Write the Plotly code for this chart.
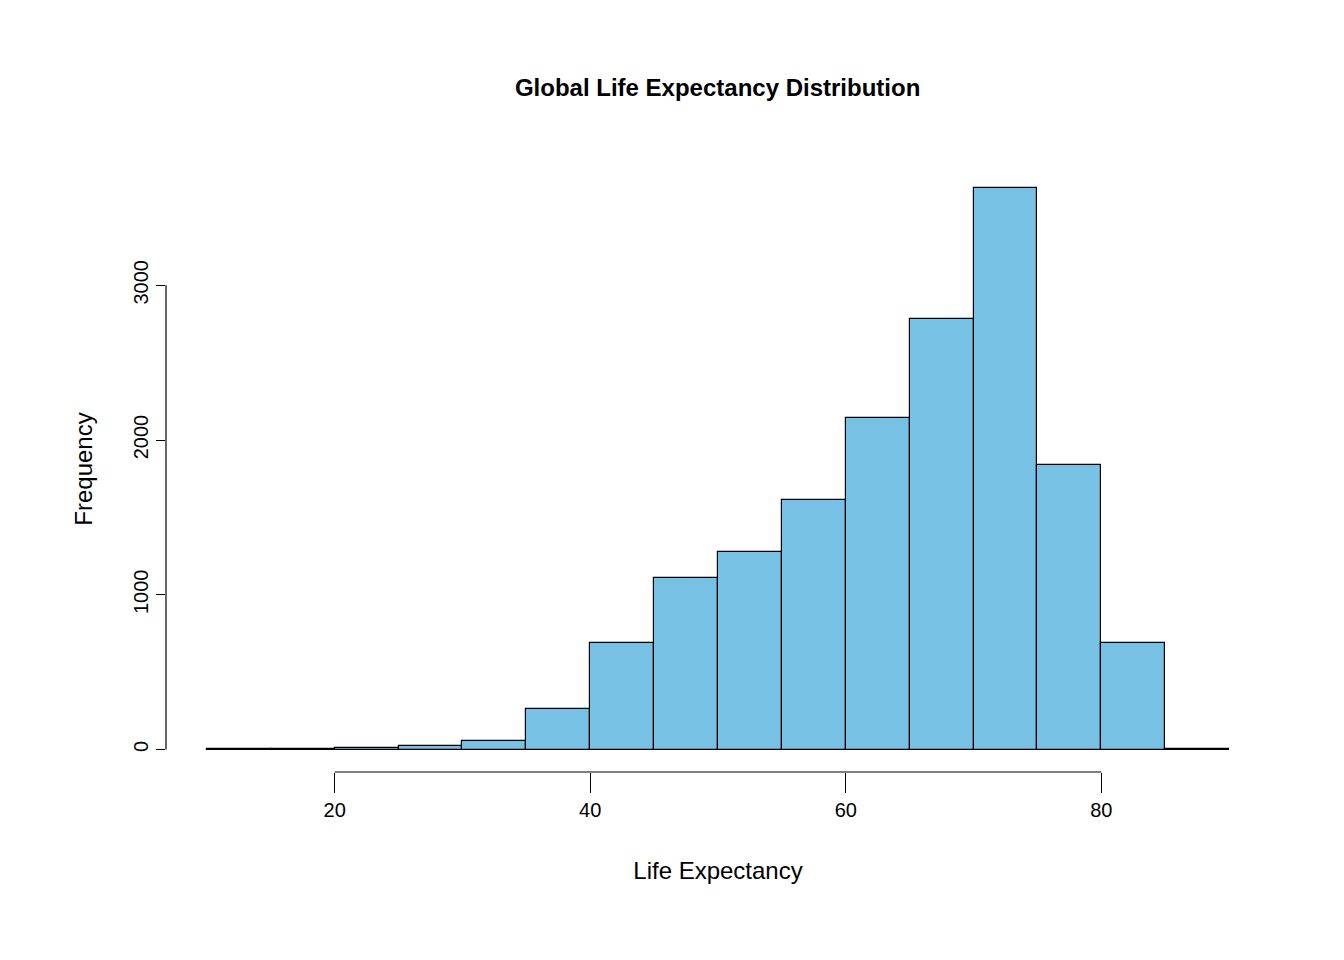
import plotly.graph_objects as go

bin_starts = [10, 15, 20, 25, 30, 35, 40, 45, 50, 55, 60, 65, 70, 75, 80, 85]
counts = [3, 1, 7, 25, 58, 265, 690, 1110, 1277, 1613, 2142, 2781, 3626, 1839, 690, 6]
bin_width = 5
x_ticks = [20, 40, 60, 80]
y_ticks = [0, 1000, 2000, 3000]

centers = [s + bin_width / 2 for s in bin_starts]
fnt = "Liberation Sans, Arial, sans-serif"

fig = go.Figure(go.Bar(x=centers, y=counts, width=[bin_width] * len(counts),
                       marker=dict(color="#77C2E4", line=dict(color="black", width=1.2))))
fig.update_layout(
    width=1344, height=960, plot_bgcolor="white", paper_bgcolor="white",
    margin=dict(l=158, r=82, t=158, b=196), showlegend=False, bargap=0,
    font=dict(family=fnt, size=20, color="black"),
    title=dict(text="<b>Global Life Expectancy Distribution</b>", x=0.528, xanchor="center",
               y=0.917, yanchor="middle", font=dict(size=24)),
)
fig.update_xaxes(range=[6.8, 93.2], tickvals=x_ticks, ticks="outside", ticklen=20, tickwidth=1.2,
                 tickcolor="black", showgrid=False, zeroline=False, showline=False,
                 title=dict(text="Life Expectancy", standoff=42))
fig.update_yaxes(range=[-145, 3771], tickvals=y_ticks, ticks="outside", ticklen=9, tickwidth=1.2,
                 tickcolor="black", tickangle=-90, showgrid=False, zeroline=False, showline=False,
                 title=dict(text="Frequency", standoff=30))
fig.add_shape(type="line", xref="x", yref="paper", x0=x_ticks[0], x1=x_ticks[-1], y0=0, y1=0,
              line=dict(color="black", width=1.2))
fig.add_shape(type="line", xref="paper", yref="y", x0=0, x1=0, y0=y_ticks[0], y1=y_ticks[-1],
              line=dict(color="black", width=1.2))
fig.write_html("out.html")
